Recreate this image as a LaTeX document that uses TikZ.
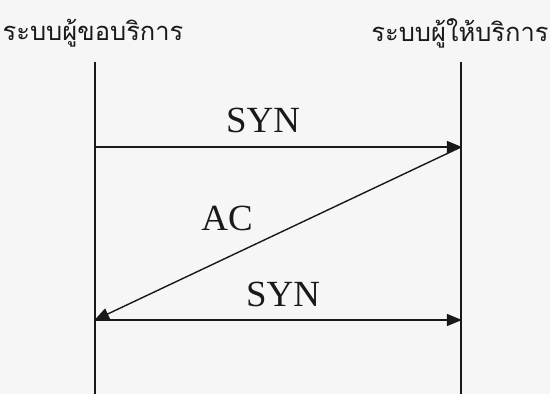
\documentclass[tikz,border=0pt]{standalone}
\usepackage{fontspec}
\setmainfont{Liberation Serif}
\newfontfamily\thaifont[Script=Thai]{Loma}
\usetikzlibrary{arrows.meta,positioning}
\definecolor{paper}{RGB}{246,246,247}
\definecolor{ink}{RGB}{25,25,28}
\tikzset{
  >={Triangle[length=3mm,width=2.4mm]},
  host/.style={font=\thaifont\fontsize{14.5}{17}\selectfont,text=ink,inner sep=0pt},
  life/.style={draw=ink,line width=0.8pt},
  msg/.style={->,line width=0.8pt,draw=ink,shorten >=-0.5pt},
  lbl/.style={font=\fontsize{21}{24}\selectfont,text=ink,inner sep=0pt},
}
\begin{document}
\begin{tikzpicture}
  \fill[paper] (0,0) rectangle (11,7.88);
  \useasboundingbox (0,0) rectangle (11,7.88);
  % hosts
  \node[host] (client) at (1.86,7.22) {ระบบผู้ขอบริการ};
  \node[host] (server) at (9.2,7.22) {ระบบผู้ให้บริการ};
  % lifelines
  \coordinate (ctop) at (1.9,6.64);
  \coordinate (cbot) at (1.9,0);
  \coordinate (stop) at (9.22,6.64);
  \coordinate (sbot) at (9.22,0);
  \draw[life] (ctop) -- (cbot);
  \draw[life] (stop) -- (sbot);
  % handshake
  \coordinate (c1) at (1.9,4.94);
  \coordinate (s1) at (9.22,4.94);
  \coordinate (c2) at (1.9,1.48);
  \coordinate (s2) at (9.22,1.48);
  \draw[msg] (c1) -- (s1);
  \draw[msg] (s1) -- (c2);
  \draw[msg] (c2) -- (s2);
  \node[lbl] (syn1) at (5.26,5.48) {SYN};
  \node[lbl] (ack) at (4.54,3.52) {AC};
  \node[lbl] (syn2) at (5.66,2.0) {SYN};
\end{tikzpicture}
\end{document}
